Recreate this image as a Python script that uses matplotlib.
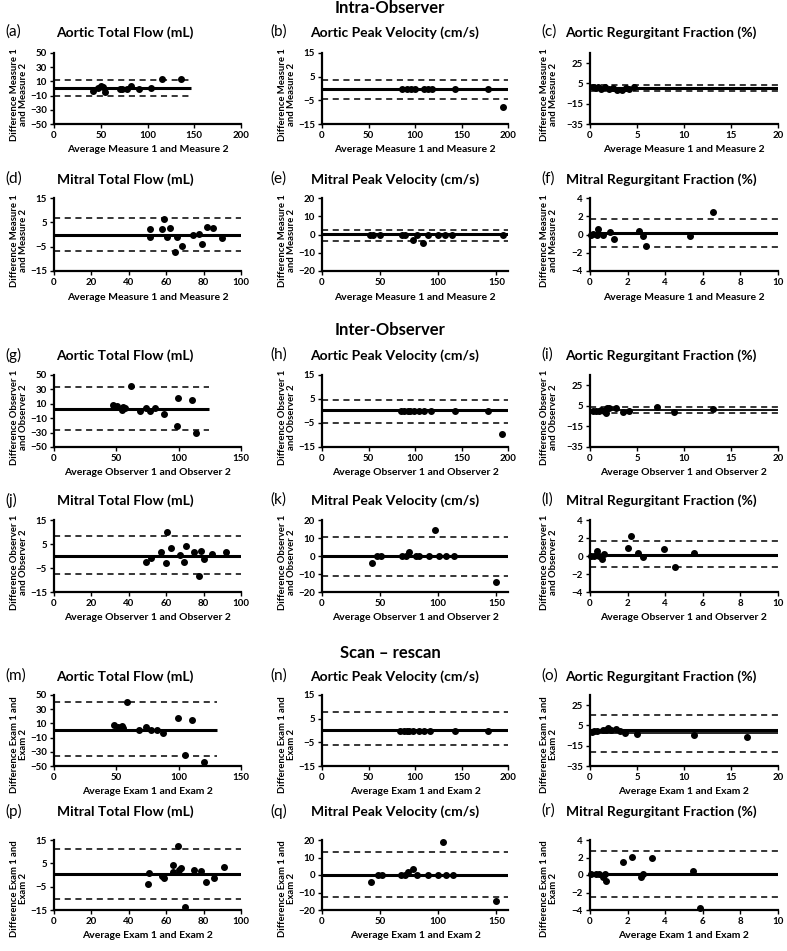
import matplotlib.pyplot as plt

plt.rcParams['font.family'] = ['Lato', 'DejaVu Sans']

# ---------------- Intra-Observer ----------------
# (a) Aortic total flow
a_avg = [42, 47, 50, 52, 55, 71, 73, 78, 82, 91, 104, 116, 136]
a_diff = [-3, 1, 4, 2, -5, -1, -1, 0, 3, 0, 1, 13, 14]
a_lines = [1, 12, -10]          # bias, upper limit, lower limit
# (b) Aortic peak velocity
b_avg = [86, 91, 96, 100, 110, 114, 118, 143, 178, 195]
b_diff = [0, 0, 0, 0, 0, 0, 0, 0, 0, -8]
b_lines = [0, 3.5, -4.5]
# (c) Aortic regurgitant fraction
c_avg = [0.3, 0.6, 0.9, 1.2, 1.6, 2.0, 2.4, 2.9, 3.4, 3.8, 4.2, 4.7]
c_diff = [1.5, 0.5, 1.0, -0.5, 1.0, 0.0, 0.5, -1.0, -1.5, 0.5, -0.5, 1.5]
c_lines = [0.4, 3.3, -2.8]
# (d) Mitral total flow
d_avg = [51.4, 51.4, 57.5, 58.9, 60.4, 62.1, 64.8, 66, 68.4, 74.1, 77.3, 79.3, 81.8, 85, 89.8]
d_diff = [2.1, -1, 2.1, 6.2, -1, 2.8, -7.3, -1, -4.7, -0.1, 0.4, -4, 2.9, 2.8, -1.4]
d_lines = [0, 6.7, -6.9]
# (e) Mitral peak velocity
e_avg = [41, 44, 49.5, 68.6, 71.5, 78, 82, 86.5, 91.3, 99.8, 105.5, 111.7, 155.8]
e_diff = [0, 0, 0, 0, 0, -3.2, 0, -4.7, 0, 0, 0, 0, 0]
e_lines = [0.4, 2.4, -3.5]
# (f) Mitral regurgitant fraction
f_avg = [0.03, 0.16, 0.38, 0.42, 0.7, 1.07, 1.28, 2.6, 2.84, 2.98, 5.3, 6.53]
f_diff = [0, 0.1, 0, 0.58, 0, 0.25, -0.46, 0.4, -0.13, -1.3, -0.2, 2.5]
f_lines = [0.17, 1.7, -1.4]

# ---------------- Inter-Observer ----------------
g_avg = [47.6, 50.8, 54.4, 55.4, 57, 61.6, 69, 73.6, 77.1, 81.1, 88.4, 98.5, 99.6, 110.6, 113.8]
g_diff = [7.7, 7, 1, 5.5, 3.7, 34.6, 0, 4.6, 0.5, 4, -3.8, -21.5, 17.8, 15, -30]
g_lines = [2.2, 33.9, -26.8]
h_avg = [85, 88, 92, 95, 99, 104, 110, 117, 143, 179, 194]
h_diff = [0, 0, 0, 0, 0, 0, 0, 0, 0, 0, -9.6]
h_lines = [0.4, 4.5, -5.1]
i_avg = [0.3, 0.6, 1.0, 1.2, 1.5, 1.7, 1.8, 2.0, 2.8, 3.5, 4.2, 7.1, 8.9, 13.1]
i_diff = [0.3, 0, -0.3, 0.7, 0.3, -2, 2.7, 3, 2.7, -0.7, 0.3, 4.3, -0.7, 2]
i_lines = [0.8, 4.0, -2.0]
j_avg = [49.2, 51.7, 57.3, 60, 60.4, 62.7, 67.6, 69.7, 70.6, 74.8, 77.5, 78.4, 80.4, 84.7, 91.9]
j_diff = [-2.4, -1, 1.5, -3.1, 9.9, 3.3, 0.6, -2.4, 4.3, 1.5, -8.5, 1.9, -1.2, 0.8, 1.5]
j_lines = [0.1, 8.2, -7.6]
k_avg = [43, 47, 51, 68.9, 72.3, 74.5, 80.8, 83.6, 92, 97.2, 101, 106.8, 113.9, 150]
k_diff = [-4, 0, 0, 0, 0, 2, 0, 0, 0, 14.4, 0, 0, 0, -14.6]
k_lines = [0, 10.6, -11.2]
l_avg = [0.03, 0.2, 0.38, 0.47, 0.64, 0.73, 2.0, 2.2, 2.55, 2.84, 3.93, 4.54, 5.55]
l_diff = [0, 0, 0.6, 0, -0.3, 0.2, 0.9, 2.2, 0.36, -0.07, 0.73, -1.27, 0.36]
l_lines = [0.1, 1.64, -1.2]

# ---------------- Scan - rescan ----------------
m_avg = [48.2, 51.4, 54.9, 55.4, 58.4, 68.3, 73.6, 77.6, 83, 87.8, 99.6, 104.7, 110.6, 120.5]
m_diff = [7.6, 5.3, 7, 4, 39.6, 0.6, 5.3, 0.6, 0.6, -3, 17.6, -34.5, 14.8, -44.4]
m_lines = [0.6, 40.6, -36.6]
n_avg = [84, 88, 91, 94, 98, 104, 110, 116, 143, 179]
n_diff = [0, 0, 0, 0, 0, 0, 0, 0, 0, 0]
n_lines = [0.4, 7.8, -6.1]
o_avg = [0.2, 0.4, 0.7, 1.4, 1.7, 1.95, 2.2, 2.8, 3.2, 3.7, 5.0, 11.1, 16.7]
o_diff = [-1.5, -0.5, -0.5, 0.2, 0.8, 2.7, 0.2, 1.8, -0.5, -2.4, -3, -4.7, -6.3]
o_lines = [0.3, 15.3, -21.4]
o_second = -2.8                 # second solid line in (o)
p_avg = [50.5, 50.9, 58, 58.9, 63.4, 63.9, 66.4, 67, 67.9, 70, 74.6, 78.6, 81.3, 85.4, 91.1]
p_diff = [-3.7, 0.8, -0.4, -1.1, 4.2, 1.4, 12.6, 2.1, 3.1, -13.7, 2.2, 1.9, -3.1, -1.4, 3.5]
p_lines = [0.5, 11.2, -10.4]
q_avg = [42, 48, 52, 68, 71, 73.7, 78.5, 82.1, 91.5, 100, 104, 106.8, 112.5, 149.3]
q_diff = [-4, 0, 0, 0, 0, 1.8, 3.4, 0, 0, 0, 19, 0, 0, -14.7]
q_lines = [0, 13.2, -12.4]
r_avg = [0.03, 0.3, 0.5, 0.7, 0.8, 0.87, 1.73, 2.25, 2.72, 2.8, 3.3, 5.46, 5.84]
r_diff = [0.07, 0.07, 0.07, -0.2, 0.07, -0.65, 1.5, 2.1, -0.2, 0.07, 2.0, 0.5, -3.8]
r_lines = [0.1, 2.8, -2.5]

group_names = ['Intra-Observer', 'Inter-Observer', 'Scan \u2013 rescan']
ylabels = ['Difference Measure 1\nand Measure 2',
           'Difference Observer 1\nand Observer 2',
           'Difference Exam 1 and\nExam 2']
xlabels = ['Average Measure 1 and Measure 2',
           'Average Observer 1 and Observer 2',
           'Average Exam 1 and Exam 2']
titles = [['Aortic Total Flow (mL)', 'Aortic Peak Velocity (cm/s)', 'Aortic Regurgitant Fraction (%)'],
          ['Mitral Total Flow (mL)', 'Mitral Peak Velocity (cm/s)', 'Mitral Regurgitant Fraction (%)']]

# layout in pixels
W, H = 787, 951
col_x = [(54, 241), (322, 508), (590, 778)]
row_y = [(53, 124), (198, 271), (375, 447), (520, 592), (695, 766), (840, 910)]
title_y = [33, 180, 356, 501, 677, 812]
group_y = [8, 330, 653]
title_x = [125, 395, 661]
letter_x = [5, 270, 541]
ylab_x = [19, 287, 549]
ylab_shift = [6, 6, 14]

# (vessel, measure) -> xmax, xticks, yticks, ylim
specs = {
    (0, 0): (None, None, [-50, -30, -10, 10, 30, 50], (-50, 50)),
    (0, 1): (200, [0, 50, 100, 150, 200], [-15, -5, 5, 15], (-15, 15)),
    (0, 2): (20, [0, 5, 10, 15, 20], [-35, -15, 5, 25], (-35, 35)),
    (1, 0): (100, [0, 20, 40, 60, 80, 100], [-15, -5, 5, 15], (-15, 15)),
    (1, 1): (160, [0, 50, 100, 150], [-20, -10, 0, 10, 20], (-20, 20)),
    (1, 2): (10, [0, 2, 4, 6, 8, 10], [-4, -2, 0, 2, 4], (-4, 4)),
}

panels = [
    ('a', a_avg, a_diff, a_lines, 147, 200), ('b', b_avg, b_diff, b_lines, 200, None),
    ('c', c_avg, c_diff, c_lines, 20, None), ('d', d_avg, d_diff, d_lines, 100, None),
    ('e', e_avg, e_diff, e_lines, 160, None), ('f', f_avg, f_diff, f_lines, 10, None),
    ('g', g_avg, g_diff, g_lines, 124, 150), ('h', h_avg, h_diff, h_lines, 200, None),
    ('i', i_avg, i_diff, i_lines, 20, None), ('j', j_avg, j_diff, j_lines, 100, None),
    ('k', k_avg, k_diff, k_lines, 160, None), ('l', l_avg, l_diff, l_lines, 10, None),
    ('m', m_avg, m_diff, m_lines, 131, 150), ('n', n_avg, n_diff, n_lines, 200, None),
    ('o', o_avg, o_diff, o_lines, 20, None), ('p', p_avg, p_diff, p_lines, 100, None),
    ('q', q_avg, q_diff, q_lines, 160, None), ('r', r_avg, r_diff, r_lines, 10, None),
]

fig = plt.figure(figsize=(7.87, 9.51), dpi=100)

for g, name in enumerate(group_names):
    fig.text(390 / W, 1 - group_y[g] / H, name, ha='center', va='center',
             fontsize=12, fontweight='bold')

for idx, (letter, avg, diff, lines, end, xmax_override) in enumerate(panels):
    row, col = idx // 3, idx % 3
    group, vessel = row // 2, row % 2
    xmax, xticks, yticks, ylim = specs[(vessel, col)]
    if xmax_override is not None:
        xmax = xmax_override
        xticks = list(range(0, xmax + 1, 50))

    x0, x1 = col_x[col]
    y0, y1 = row_y[row]
    ax = fig.add_axes([x0 / W, 1 - y1 / H, (x1 - x0) / W, (y1 - y0) / H])

    thin = letter in ('i',)
    ax.plot([0, end], [lines[0], lines[0]], color='black', lw=1.3 if thin else 2.2,
            solid_capstyle='butt')
    for v in lines[1:]:
        ax.plot([0, end], [v, v], color='black', lw=1.1, ls=(0, (4, 3)))
    if letter == 'o':
        ax.plot([0, end], [o_second, o_second], color='black', lw=1.2)
    ax.plot(avg, diff, 'o', color='black', ms=4, clip_on=False, zorder=3)

    ax.set_xlim(0, xmax)
    ax.set_ylim(*ylim)
    ax.set_xticks(xticks)
    ax.set_yticks(yticks)
    for s in ('top', 'right'):
        ax.spines[s].set_visible(False)
    for s in ('left', 'bottom'):
        ax.spines[s].set_linewidth(1.6)
    ax.tick_params(direction='out', length=3, width=1, labelsize=7, pad=2)
    for lab in ax.get_xticklabels() + ax.get_yticklabels():
        lab.set_fontweight('bold')
    ax.set_xlabel(xlabels[group], fontsize=7.5, fontweight='bold', labelpad=4)

    yc = (y0 + y1) / 2 + ylab_shift[group]
    fig.text(ylab_x[col] / W, 1 - yc / H, ylabels[group], rotation=90,
             ha='center', va='center', fontsize=6.8, fontweight='bold', linespacing=1.05)
    fig.text(title_x[col] / W, 1 - title_y[row] / H, titles[vessel][col],
             ha='center', va='center', fontsize=10, fontweight='bold')
    fig.text(letter_x[col] / W, 1 - (title_y[row] - 1) / H, '(%s)' % letter,
             ha='left', va='center', fontsize=11)

fig.savefig('out.png', dpi=100)
